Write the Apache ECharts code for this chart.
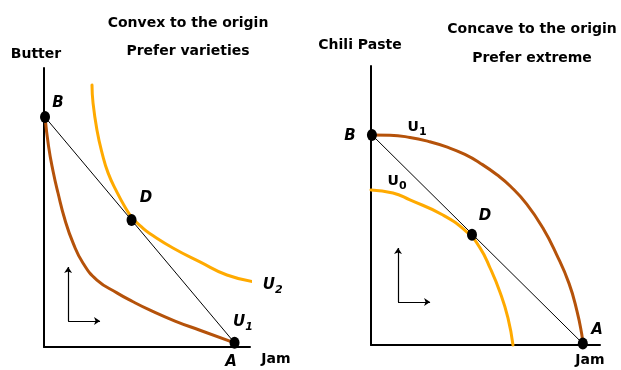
<!DOCTYPE html>
<html lang="en">
<head>
  <meta charset="UTF-8">
  <title>Convex vs concave indifference curves</title>
  <style>
    html, body { margin: 0; padding: 0; background: #fff; }
  </style>
</head>
<body>
<div id="main" style="width:621px; height:370px;"></div>
<script type="text/javascript" src="https://fastly.jsdelivr.net/npm/echarts@6/dist/echarts.min.js"></script>
<script>
  // ---- left panel: convex (Butter vs Jam) ----
  var convexU1 = [[0.5, 82.4], [2.2, 72], [4.4, 63], [6.8, 55.2], [10.2, 45.5], [14.1, 37.3], [18.9, 30.1], [25.7, 24], [35.4, 19.4], [43, 16.3], [51.5, 13.2], [63.6, 9.3], [75.7, 6], [92.5, 1.5]];
  var convexU2 = [[23.3, 93.9], [23.8, 87.5], [25.7, 77.8], [28.2, 69.5], [31.1, 62.4], [35.4, 55.5], [39.3, 50.2], [42.7, 46.4], [48.1, 42.5], [51.5, 40.6], [62.6, 35.5], [75.7, 30.5], [88.8, 25.8], [102.4, 23.3]];
  var convexBudget = [[0.5, 82.4], [92.5, 1.5]];
  var convexPoints = [['B', 0.5, 82.4], ['D', 42.5, 45.5], ['A', 92.5, 1.5]];
  var convexArrows = [[[11.7, 9.3], [11.7, 28.7]], [[11.7, 9.3], [27.2, 9.3]]];

  // ---- right panel: concave (Chili Paste vs Jam) ----
  var concaveU1 = [[0.4, 75.3], [8.3, 75.2], [17, 74.4], [25, 73], [33, 71], [41, 68.3], [48, 65], [55, 61], [61, 56.8], [68, 50.5], [75, 42], [81, 32.5], [86.5, 22], [90, 12], [92, 4], [92.5, 0.5]];
  var concaveU0 = [[0, 55.6], [9.6, 54.5], [17, 52], [31.4, 46.6], [41.9, 40.5], [47.6, 34.8], [52, 27.6], [56.3, 19], [59.8, 9.7], [62, 0]];
  var concaveBudget = [[0.4, 75.3], [92.5, 0.5]];
  var concavePoints = [['B', 0.4, 75.3], ['D', 44.1, 39.5], ['A', 92.5, 0.5]];
  var concaveArrows = [[[11.8, 15.4], [11.8, 34.8]], [[11.8, 15.4], [25.8, 15.4]]];

  // text annotations [x, y, text]
  var convexLabels = [[6.8, 87.5, '{i|B}'], [49.5, 53.4, '{i|D}'], [111, 22.2, '{i|U}{is|2}'], [96.6, 9, '{i|U}{is|1}'], [90.8, -5.4, '{i|A}'], [112.6, -4.3, '{n|Jam}'], [-3.9, 105, '{n|Butter}']];
  var concaveLabels = [[-9.2, 74.9, '{i|B}'], [20.1, 78.1, '{n|U}{ns|1}'], [11.4, 58.8, '{n|U}{ns|0}'], [49.8, 46.2, '{i|D}'], [98.7, 5.4, '{i|A}'], [95.6, -5.4, '{n|Jam}'], [-4.8, 107.5, '{n|Chili Paste}']];

  var FONT = 'DejaVu Sans';
  var BROWN = '#b5520a';
  var ORANGE = '#ffaa00';

  function txt(extra) {
    var base = { fontFamily: FONT, fontWeight: 'bold', color: '#000', textBorderWidth: 0 };
    for (var k in extra) base[k] = extra[k];
    return base;
  }
  var rich = {
    i: txt({ fontStyle: 'italic', fontSize: 15 }),
    is: txt({ fontStyle: 'italic', fontSize: 11, padding: [10, 0, 0, 0] }),
    n: txt({ fontSize: 14 }),
    ns: txt({ fontSize: 11, padding: [10, 0, 0, 0] })
  };

  function axisPair(idx) {
    return {
      x: { type: 'value', gridIndex: idx, min: 0, max: 100, axisLine: { lineStyle: { color: '#000', width: 2 } }, axisTick: { show: false }, axisLabel: { show: false }, splitLine: { show: false } },
      y: { type: 'value', gridIndex: idx, min: 0, max: 100, axisLine: { lineStyle: { color: '#000', width: 2 } }, axisTick: { show: false }, axisLabel: { show: false }, splitLine: { show: false } }
    };
  }
  var a0 = axisPair(0), a1 = axisPair(1);

  function curve(idx, data, color, width) {
    return { type: 'line', xAxisIndex: idx, yAxisIndex: idx, data: data, smooth: 0.5, symbol: 'none', clip: false,
      lineStyle: { color: color, width: width, cap: 'round' }, z: 3, silent: true };
  }
  function budget(idx, data) {
    return { type: 'line', xAxisIndex: idx, yAxisIndex: idx, data: data, symbol: 'none', clip: false,
      lineStyle: { color: '#000', width: 1 }, z: 4, silent: true };
  }
  function dots(idx, pts) {
    return { type: 'scatter', xAxisIndex: idx, yAxisIndex: idx, clip: false, symbol: 'circle', symbolSize: [10, 12],
      itemStyle: { color: '#000', opacity: 1 }, z: 6, silent: true,
      data: pts.map(function (p) { return { name: p[0], value: [p[1], p[2]] }; }) };
  }
  function arrows(idx, segs) {
    return { type: 'lines', coordinateSystem: 'cartesian2d', xAxisIndex: idx, yAxisIndex: idx, symbol: ['none', 'arrow'], symbolSize: 6,
      lineStyle: { color: '#000', width: 1.2, opacity: 1 }, silent: true,
      data: segs.map(function (s) { return { coords: s }; }) };
  }
  function texts(idx, labels) {
    return { type: 'scatter', xAxisIndex: idx, yAxisIndex: idx, clip: false, symbolSize: 0, silent: true, z: 7,
      itemStyle: { color: '#000', opacity: 1 },
      label: { show: true, position: [0, 0], align: 'center', verticalAlign: 'middle', color: '#000', textBorderWidth: 0,
        formatter: function (p) { return p.data.value[2]; }, rich: rich },
      data: labels.map(function (l) { return { value: [l[0], l[1], l[2]] }; }) };
  }

  var titleStyle = { fontFamily: FONT, fontWeight: 'bold', fontSize: 14, color: '#000' };

  var option = {
    animation: false,
    backgroundColor: '#fff',
    title: [
      { text: 'Convex to the origin', left: 183, top: 11, textAlign: 'center', textStyle: titleStyle },
      { text: 'Prefer varieties', left: 183, top: 39, textAlign: 'center', textStyle: titleStyle },
      { text: 'Concave to the origin', left: 527, top: 17, textAlign: 'center', textStyle: titleStyle },
      { text: 'Prefer extreme', left: 527, top: 46, textAlign: 'center', textStyle: titleStyle }
    ],
    grid: [
      { left: 44, top: 68, width: 206, height: 279 },
      { left: 371, top: 66, width: 229, height: 279 }
    ],
    xAxis: [a0.x, a1.x],
    yAxis: [a0.y, a1.y],
    series: [
      curve(0, convexU1, BROWN, 3),
      curve(0, convexU2, ORANGE, 3),
      budget(0, convexBudget),
      dots(0, convexPoints),
      arrows(0, convexArrows),
      texts(0, convexLabels),
      curve(1, concaveU1, BROWN, 3),
      curve(1, concaveU0, ORANGE, 3),
      budget(1, concaveBudget),
      dots(1, concavePoints),
      arrows(1, concaveArrows),
      texts(1, concaveLabels)
    ]
  };

  var myChart = echarts.init(document.getElementById('main'));
  myChart.setOption(option);
</script>
</body>
</html>
